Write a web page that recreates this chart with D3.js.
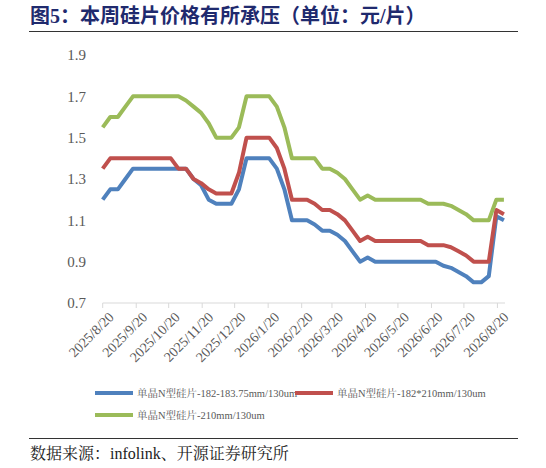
<!DOCTYPE html>
<html><head><meta charset="utf-8">
<script src="https://cdn.jsdelivr.net/npm/d3@7"></script>
<style>body{margin:0;background:#fff}</style>
</head><body><svg id="chart" width="546" height="468"></svg>
<script>
// weekly dates from 2025/8/20
var startDate = new Date(2025, 7, 20);
var dates = d3.range(54).map(i => d3.timeDay.offset(startDate, 7 * i));
var seriesNames = ["单晶N型硅片-182-183.75mm/130um", "单晶N型硅片-182*210mm/130um", "单晶N型硅片-210mm/130um"];
var colors = ["#4f81bd", "#c0504d", "#9bbb59"];
var blueVals = [1.2,1.25,1.25,1.3,1.35,1.35,1.35,1.35,1.35,1.35,1.35,1.35,1.3,1.27,1.2,1.18,1.18,1.18,1.25,1.4,1.4,1.4,1.4,1.35,1.25,1.1,1.1,1.1,1.08,1.05,1.05,1.03,1.0,0.95,0.9,0.92,0.9,0.9,0.9,0.9,0.9,0.9,0.9,0.9,0.9,0.88,0.87,0.85,0.83,0.8,0.8,0.83,1.12,1.1];
var redVals = [1.35,1.4,1.4,1.4,1.4,1.4,1.4,1.4,1.4,1.4,1.35,1.35,1.3,1.28,1.25,1.23,1.23,1.23,1.33,1.5,1.5,1.5,1.5,1.45,1.35,1.2,1.2,1.2,1.18,1.15,1.15,1.13,1.1,1.05,1.0,1.02,1.0,1.0,1.0,1.0,1.0,1.0,1.0,0.98,0.98,0.98,0.97,0.95,0.93,0.9,0.9,0.9,1.15,1.13];
var greenVals = [1.55,1.6,1.6,1.65,1.7,1.7,1.7,1.7,1.7,1.7,1.7,1.68,1.65,1.62,1.57,1.5,1.5,1.5,1.55,1.7,1.7,1.7,1.7,1.65,1.55,1.4,1.4,1.4,1.4,1.35,1.35,1.33,1.3,1.25,1.2,1.22,1.2,1.2,1.2,1.2,1.2,1.2,1.2,1.18,1.18,1.18,1.17,1.15,1.13,1.1,1.1,1.1,1.2,1.2];
var yTicks = [0.7, 0.9, 1.1, 1.3, 1.5, 1.7, 1.9];
var xTicks = d3.range(13).map(i => new Date(2025, 7 + i, 20));

var svg = d3.select("#chart");
var serif = "'Liberation Serif', 'Noto Serif CJK SC', serif";

// title
svg.append("text").attr("x", 30).attr("y", 23)
    .attr("font-family", "'Liberation Serif','Noto Sans CJK SC',serif").attr("font-weight", "bold")
    .attr("font-size", 20).attr("fill", "#1f2a6e")
    .text("图5：本周硅片价格有所承压（单位：元/片）");
svg.append("line").attr("x1", 29).attr("x2", 518).attr("y1", 31.5).attr("y2", 31.5)
    .attr("stroke", "#333").attr("stroke-width", 1);

var x = d3.scaleTime().domain([startDate, new Date(2026, 7, 27)]).range([102.7, 505]);
var y = d3.scaleLinear().domain([0.7, 1.9]).range([303, 55]);

// x axis
var xg = svg.append("g").attr("transform", "translate(0,303)");
xg.append("line").attr("x1", 102.7).attr("x2", 505).attr("stroke", "#d9d9d9");
xg.selectAll(".tk").data(xTicks).enter().append("line")
    .attr("x1", d => x(d)).attr("x2", d => x(d)).attr("y1", 0).attr("y2", 5).attr("stroke", "#d9d9d9");
xg.selectAll(".lb").data(xTicks).enter().append("text")
    .attr("transform", d => `translate(${x(d) + 5},8) rotate(-45)`)
    .attr("text-anchor", "end").attr("dy", "0.7em")
    .attr("font-family", serif).attr("font-size", 14).attr("fill", "#595959")
    .text(d => d3.timeFormat("%Y/%-m/%-d")(d));

// y axis labels
svg.selectAll(".yl").data(yTicks).enter().append("text")
    .attr("x", 86).attr("y", d => y(d)).attr("dy", "0.35em").attr("text-anchor", "end")
    .attr("font-family", serif).attr("font-size", 15).attr("fill", "#595959")
    .text(d => d.toFixed(1));

// lines
var allVals = [blueVals, redVals, greenVals];
var line = d3.line().x((d, i) => x(dates[i])).y(d => y(d));
allVals.forEach((vals, k) => {
    svg.append("path").datum(vals).attr("d", line).attr("fill", "none")
        .attr("stroke", colors[k]).attr("stroke-width", 4).attr("stroke-linejoin", "round");
});

// legend
var legPos = [[95, 393], [295, 393], [95, 415]];
seriesNames.forEach((n, k) => {
    var g = svg.append("g").attr("transform", `translate(${legPos[k][0]},${legPos[k][1]})`);
    g.append("line").attr("x1", 0).attr("x2", 38).attr("stroke", colors[k]).attr("stroke-width", 4);
    g.append("text").attr("x", 42).attr("dy", "0.35em").attr("font-family", serif)
        .attr("font-size", 10.5).attr("fill", "#595959").text(n);
});

// source
svg.append("line").attr("x1", 29).attr("x2", 518).attr("y1", 438.5).attr("y2", 438.5)
    .attr("stroke", "#333").attr("stroke-width", 1);
svg.append("text").attr("x", 30).attr("y", 459).attr("font-family", "'Liberation Serif','Noto Serif CJK SC',serif")
    .attr("font-size", 16).attr("fill", "#222").text("数据来源：infolink、开源证券研究所");
</script></body></html>
